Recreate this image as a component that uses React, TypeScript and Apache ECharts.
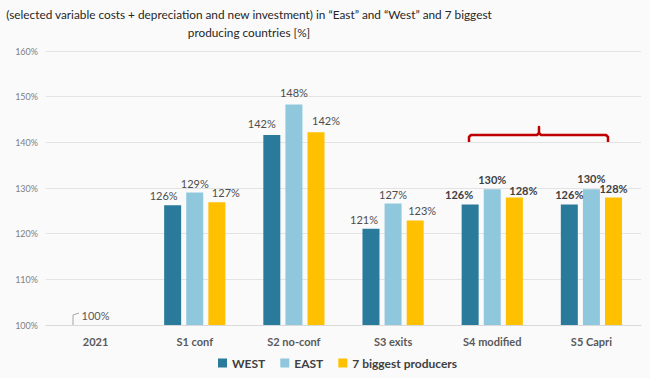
import React, { useEffect, useRef } from "react";
import * as echarts from "echarts";

const categories = ["2021", "S1 conf", "S2 no-conf", "S3 exits", "S4 modified", "S5 Capri"];
const westValues = [100, 126.2, 141.6, 121.1, 126.4, 126.4];
const eastValues = [100, 129.0, 148.3, 126.6, 129.7, 129.7];
const sevenValues = [100, 126.9, 142.2, 122.9, 127.9, 127.9];
const seriesNames = ["WEST", "EAST", "7 biggest producers"];
const boldCategories = ["S4 modified", "S5 Capri"];
const yTicks = { min: 100, max: 160, interval: 10 };
const titleText =
  "(selected variable costs + depreciation and new investment) in \u201cEast\u201d and \u201cWest\u201d and 7 biggest\nproducing countries [%]";

const FONT = "Lato, 'Open Sans', sans-serif";
// horizontal label shifts per series / category (styling only)
const labelShiftX = [
  [22, -9, -10, -7, -11, 0],
  [0, 0, 0, 0, 0, 0],
  [0, 9, 10, 7, 9, 0],
];
const labelShiftY = [
  [0, 0, -2, 0, 0, 0],
  [0, 0, -2, 0, 0, -1],
  [0, 0, -2, 0, 2, 0],
];

function buildData(values: number[], seriesIdx: number) {
  return values.map((v, i) => {
    const cat = categories[i];
    const item: any = { value: v };
    const offset = [labelShiftX[seriesIdx][i], labelShiftY[seriesIdx][i]];
    if (i === 0) {
      if (seriesIdx === 0) {
        item.label = { show: true, offset, fontSize: 11, color: "#595959", fontWeight: "normal" };
      } else {
        item.label = { show: false };
      }
    } else if (boldCategories.includes(cat)) {
      item.label = { offset, fontWeight: "bold", color: "#404040" };
    } else {
      item.label = { offset };
    }
    return item;
  });
}

export default function App() {
  const ref = useRef<HTMLDivElement>(null);
  useEffect(() => {
    if (!ref.current) return;
    const chart = echarts.init(ref.current, null, { renderer: "svg" });
    const colors = ["#2a7b9b", "#8fc7dd", "#ffc000"];
    const valuesList = [westValues, eastValues, sevenValues];
    chart.setOption({
      animation: false,
      backgroundColor: "#fafafb",
      color: colors,
      grid: { left: 46, right: 9, top: 51, bottom: 53 },
      legend: {
        data: seriesNames,
        top: 357,
        left: 218,
        padding: 0,
        itemWidth: 9,
        itemHeight: 9,
        itemGap: 15,
        icon: "rect",
        textStyle: { fontFamily: FONT, fontSize: 12, fontWeight: "bold", color: "#404040" },
      },
      xAxis: {
        type: "category",
        data: categories,
        axisTick: { show: false },
        axisLine: { lineStyle: { color: "#d9d9d9" } },
        axisLabel: { fontFamily: FONT, fontSize: 11, fontWeight: "bold", color: "#595959", margin: 11 },
      },
      yAxis: {
        type: "value",
        min: yTicks.min,
        max: yTicks.max,
        interval: yTicks.interval,
        axisLabel: { fontFamily: FONT, fontSize: 9, color: "#7f7f7f", formatter: (v: number) => v + "%" },
        splitLine: { lineStyle: { color: "#e3e3e3" } },
      },
      series: valuesList.map((vals, si) => ({
        type: "bar",
        name: seriesNames[si],
        data: buildData(vals, si),
        barWidth: 17,
        barGap: "30%",
        label: {
          show: true,
          position: "top",
          distance: 4,
          fontFamily: FONT,
          fontSize: 11,
          color: "#4d4d4d",
          formatter: (p: any) => Math.round(p.value) + "%",
        },
      })),
      graphic: [
        {
          type: "text",
          x: 249,
          y: 5,
          style: {
            text: titleText,
            fontFamily: FONT,
            fontSize: 11.8,
            fill: "#262626",
            align: "center",
            lineHeight: 18,
          },
        },
        {
          type: "polyline",
          shape: { points: [[73, 325], [73, 315], [79, 313]] },
          style: { stroke: "#a6a6a6", lineWidth: 1, fill: null },
        },
        {
          type: "polyline",
          shape: {
            points: [
              [469, 142], [469, 137], [471, 135], [537, 135], [539, 133], [539, 127],
              [539, 133], [541, 135], [606, 135], [608, 137], [608, 142],
            ],
          },
          style: { stroke: "#c00000", lineWidth: 2.5, fill: null, lineJoin: "round" },
        },
      ],
    });
    return () => chart.dispose();
  }, []);
  return <div ref={ref} style={{ width: 650, height: 378, position: "absolute", left: 0, top: 0 }} />;
}
